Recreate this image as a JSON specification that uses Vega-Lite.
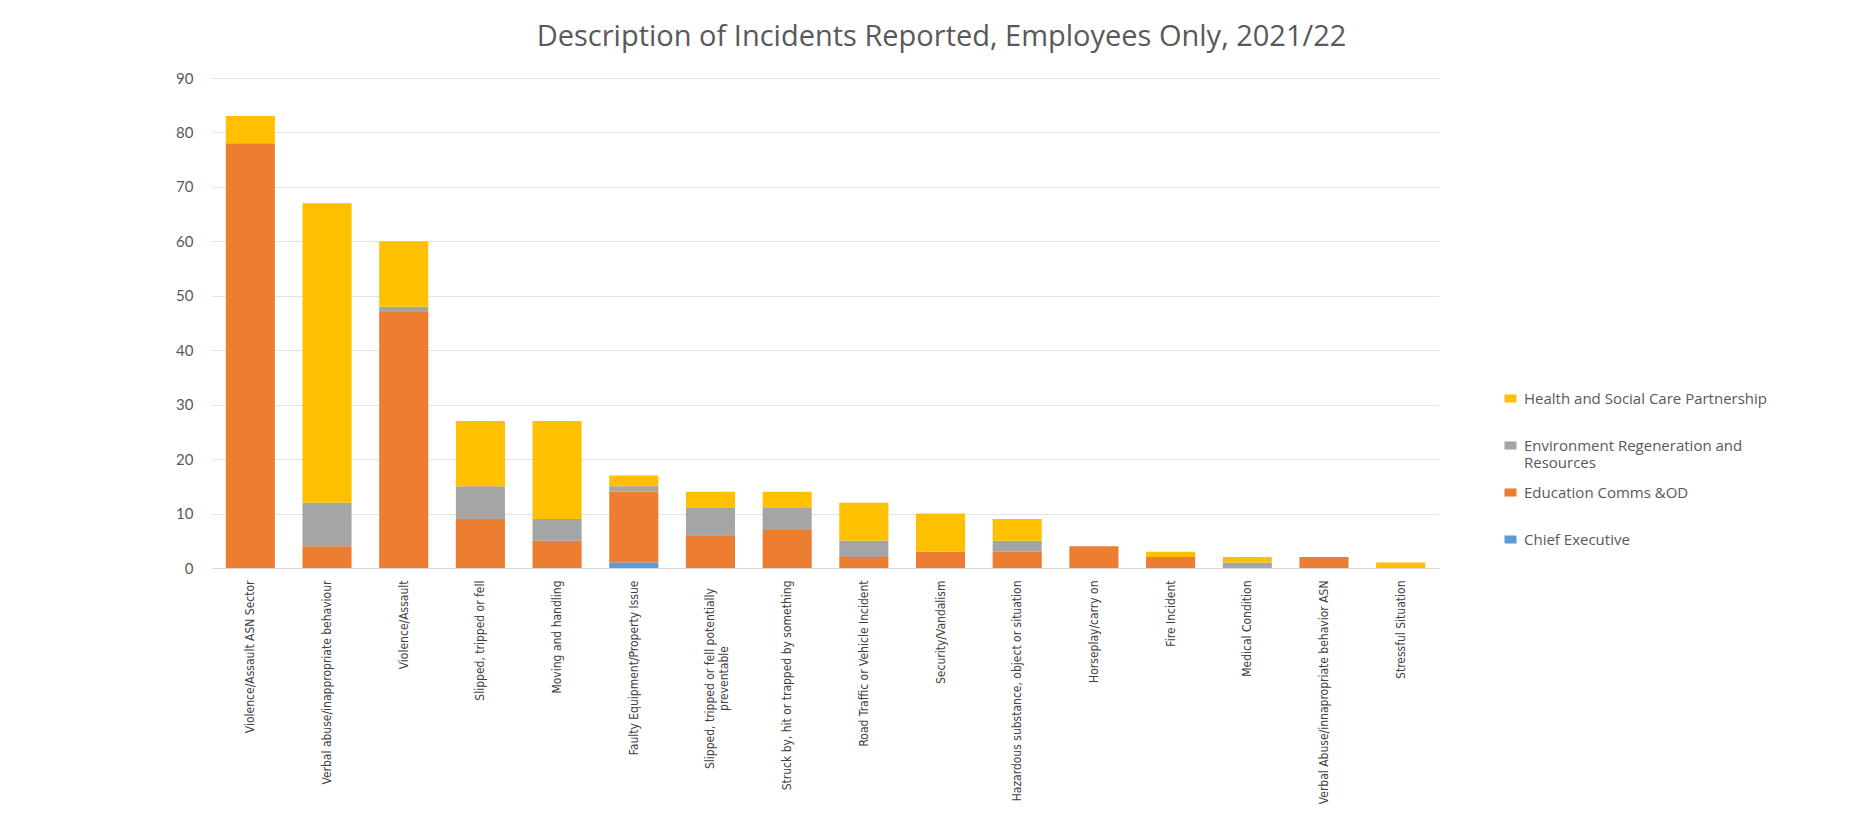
{
  "$schema": "https://vega.github.io/schema/vega-lite/v6.json",
  "autosize": "none",
  "width": 1227,
  "height": 490,
  "padding": {"left": 212, "top": 78, "right": 428, "bottom": 267},
  "background": "white",
  "title": {
    "text": "Description of Incidents Reported, Employees Only, 2021/22",
    "font": "Open Sans",
    "fontSize": 29,
    "fontWeight": "normal",
    "color": "#595959",
    "anchor": "middle",
    "dx": 116,
    "offset": 19
  },
  "data": {
    "values": [
      {"incident": "Violence/Assault ASN Sector", "dept": "Education Comms &OD", "count": 78},
      {"incident": "Violence/Assault ASN Sector", "dept": "Health and Social Care Partnership", "count": 5},
      {"incident": "Verbal abuse/inappropriate behaviour", "dept": "Education Comms &OD", "count": 4},
      {"incident": "Verbal abuse/inappropriate behaviour", "dept": "Environment Regeneration and Resources", "count": 8},
      {"incident": "Verbal abuse/inappropriate behaviour", "dept": "Health and Social Care Partnership", "count": 55},
      {"incident": "Violence/Assault", "dept": "Education Comms &OD", "count": 47},
      {"incident": "Violence/Assault", "dept": "Environment Regeneration and Resources", "count": 1},
      {"incident": "Violence/Assault", "dept": "Health and Social Care Partnership", "count": 12},
      {"incident": "Slipped, tripped or fell", "dept": "Education Comms &OD", "count": 9},
      {"incident": "Slipped, tripped or fell", "dept": "Environment Regeneration and Resources", "count": 6},
      {"incident": "Slipped, tripped or fell", "dept": "Health and Social Care Partnership", "count": 12},
      {"incident": "Moving and handling", "dept": "Education Comms &OD", "count": 5},
      {"incident": "Moving and handling", "dept": "Environment Regeneration and Resources", "count": 4},
      {"incident": "Moving and handling", "dept": "Health and Social Care Partnership", "count": 18},
      {"incident": "Faulty Equipment/Property Issue", "dept": "Chief Executive", "count": 1},
      {"incident": "Faulty Equipment/Property Issue", "dept": "Education Comms &OD", "count": 13},
      {"incident": "Faulty Equipment/Property Issue", "dept": "Environment Regeneration and Resources", "count": 1},
      {"incident": "Faulty Equipment/Property Issue", "dept": "Health and Social Care Partnership", "count": 2},
      {"incident": "Slipped, tripped or fell potentially preventable", "dept": "Education Comms &OD", "count": 6},
      {"incident": "Slipped, tripped or fell potentially preventable", "dept": "Environment Regeneration and Resources", "count": 5},
      {"incident": "Slipped, tripped or fell potentially preventable", "dept": "Health and Social Care Partnership", "count": 3},
      {"incident": "Struck by, hit or trapped by something", "dept": "Education Comms &OD", "count": 7},
      {"incident": "Struck by, hit or trapped by something", "dept": "Environment Regeneration and Resources", "count": 4},
      {"incident": "Struck by, hit or trapped by something", "dept": "Health and Social Care Partnership", "count": 3},
      {"incident": "Road Traffic or Vehicle  Incident", "dept": "Education Comms &OD", "count": 2},
      {"incident": "Road Traffic or Vehicle  Incident", "dept": "Environment Regeneration and Resources", "count": 3},
      {"incident": "Road Traffic or Vehicle  Incident", "dept": "Health and Social Care Partnership", "count": 7},
      {"incident": "Security/Vandalism", "dept": "Education Comms &OD", "count": 3},
      {"incident": "Security/Vandalism", "dept": "Health and Social Care Partnership", "count": 7},
      {"incident": "Hazardous substance, object or situation", "dept": "Education Comms &OD", "count": 3},
      {"incident": "Hazardous substance, object or situation", "dept": "Environment Regeneration and Resources", "count": 2},
      {"incident": "Hazardous substance, object or situation", "dept": "Health and Social Care Partnership", "count": 4},
      {"incident": "Horseplay/carry on", "dept": "Education Comms &OD", "count": 4},
      {"incident": "Fire Incident", "dept": "Education Comms &OD", "count": 2},
      {"incident": "Fire Incident", "dept": "Health and Social Care Partnership", "count": 1},
      {"incident": "Medical Condition", "dept": "Environment Regeneration and Resources", "count": 1},
      {"incident": "Medical Condition", "dept": "Health and Social Care Partnership", "count": 1},
      {"incident": "Verbal Abuse/innapropriate behavior ASN", "dept": "Education Comms &OD", "count": 2},
      {"incident": "Stressful Situation", "dept": "Health and Social Care Partnership", "count": 1}
    ]
  },
  "mark": {"type": "bar"},
  "encoding": {
    "x": {
      "field": "incident",
      "type": "nominal",
      "sort": null,
      "title": null,
      "scale": {"paddingInner": 0.36, "paddingOuter": 0.18},
      "axis": {
        "labelAngle": -90,
        "labelAlign": {"condition": {"test": "datum.value == 'Slipped, tripped or fell potentially preventable'", "value": "center"}, "value": "right"},
        "labelPadding": {"condition": {"test": "datum.value == 'Slipped, tripped or fell potentially preventable'", "value": 110}, "value": 12},
        "labelBaseline": "middle",
        "labelFont": "DejaVu Sans Condensed, sans-serif",
        "labelFontSize": 12,
        "labelColor": "#404040",
        "labelLimit": 400,
        "labelExpr": "datum.label == 'Slipped, tripped or fell potentially preventable' ? ['Slipped, tripped or fell potentially', 'preventable'] : datum.label",
        "ticks": false,
        "domainColor": "#d9d9d9",
        "domainWidth": 1,
        "grid": false
      }
    },
    "y": {
      "field": "count",
      "type": "quantitative",
      "aggregate": "sum",
      "stack": "zero",
      "title": null,
      "scale": {"domain": [0, 90], "nice": false},
      "axis": {
        "values": [0, 10, 20, 30, 40, 50, 60, 70, 80, 90],
        "labelFont": "Lato",
        "labelFontSize": 15,
        "labelColor": "#595959",
        "labelPadding": 19,
        "ticks": false,
        "domain": false,
        "gridColor": "#e3e3e3",
        "gridWidth": 1
      }
    },
    "color": {
      "field": "dept",
      "type": "nominal",
      "scale": {
        "domain": ["Health and Social Care Partnership", "Environment Regeneration and Resources", "Education Comms &OD", "Chief Executive"],
        "range": ["#FFC000", "#A5A5A5", "#ED7D31", "#5B9BD5"]
      },
      "legend": {
        "title": null,
        "orient": "none",
        "legendX": 1291,
        "legendY": 313,
        "symbolType": "M-1,-0.67H1V0.67H-1Z",
        "symbolSize": 144,
        "symbolStrokeWidth": 0,
        "labelFont": "Open Sans",
        "labelFontSize": 15,
        "labelColor": "#595959",
        "labelOffset": 6,
        "labelLimit": 400,
        "rowPadding": 14,
        "labelExpr": "datum.label == 'Environment Regeneration and Resources' ? ['Environment Regeneration and', 'Resources'] : [datum.label, ' ']"
      }
    },
    "order": {"field": "dept", "type": "ordinal", "sort": "ascending"}
  },
  "config": {
    "view": {"stroke": null}
  }
}
